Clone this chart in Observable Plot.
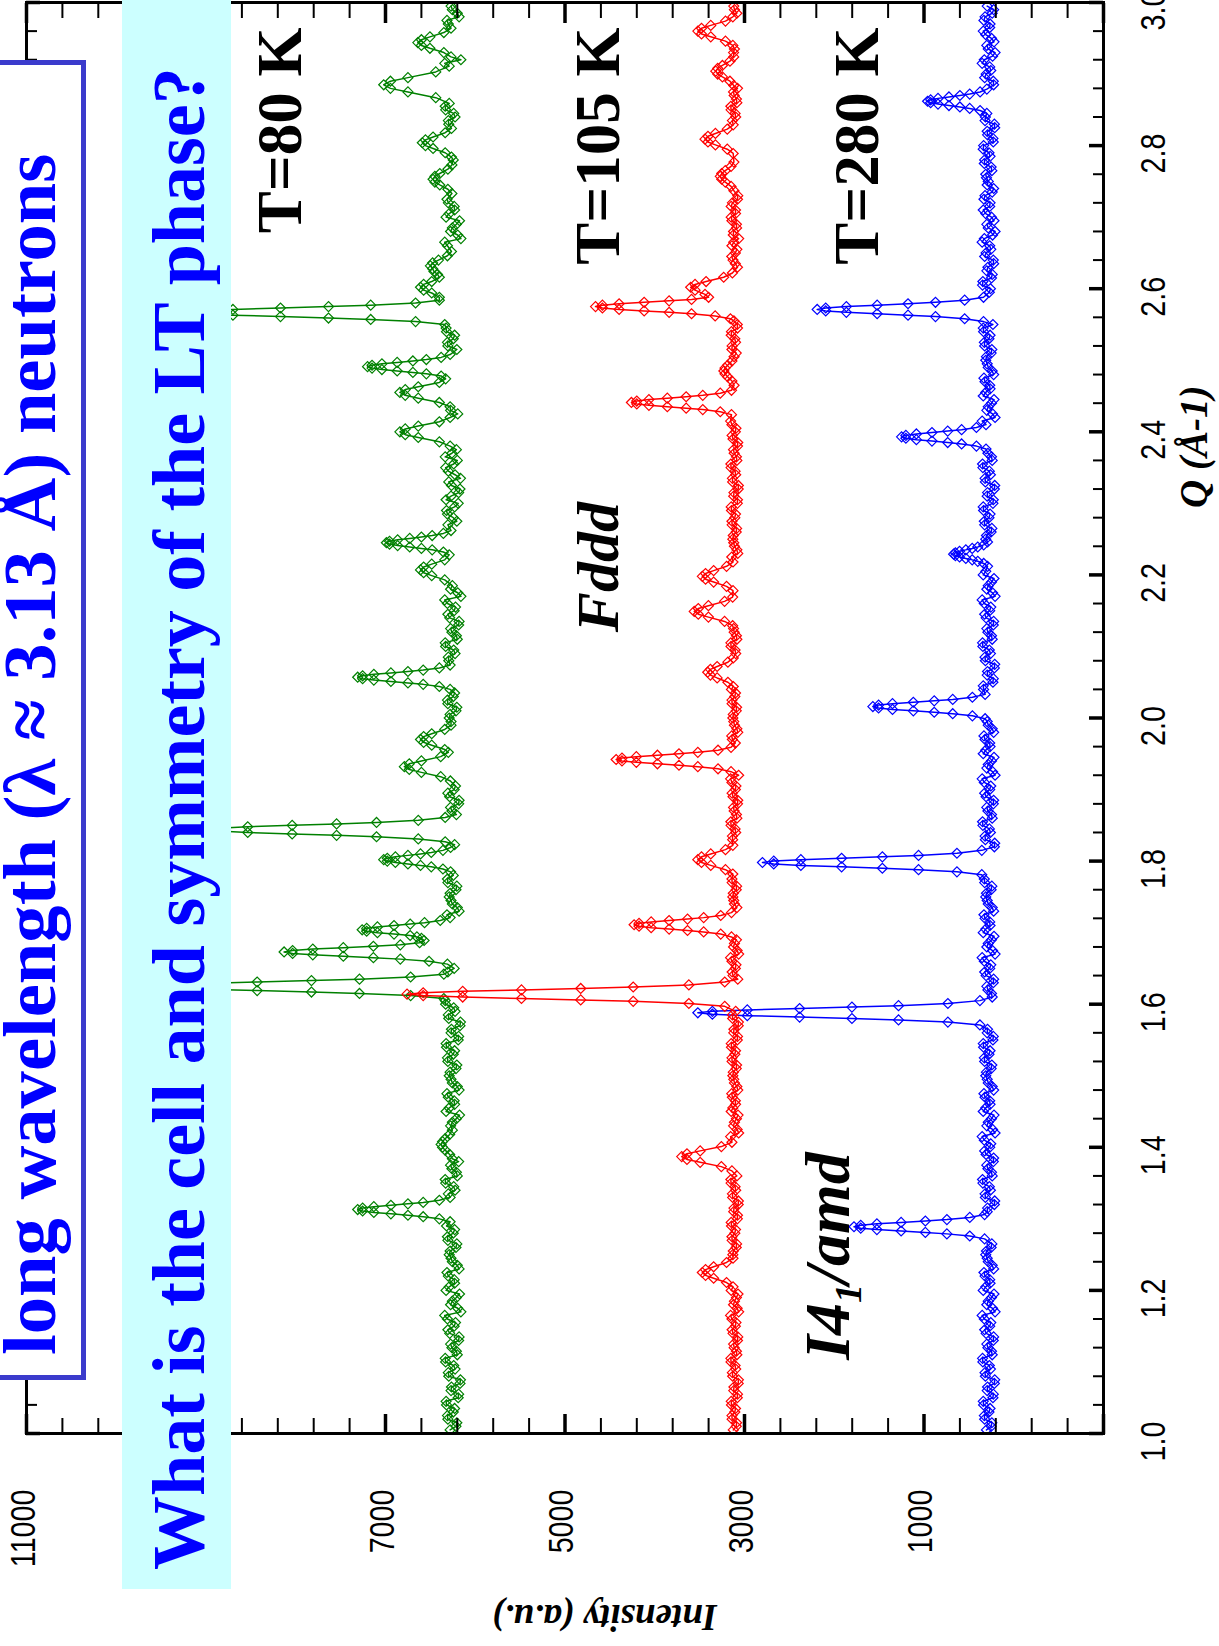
<!DOCTYPE html>
<html><head><meta charset="utf-8">
<script src="https://cdn.jsdelivr.net/npm/d3@7"></script>
<script src="https://cdn.jsdelivr.net/npm/@observablehq/plot@0.6"></script>
<style>
html,body{margin:0;padding:0;background:#fff;overflow:hidden;width:1219px;height:1646px;}
#page{position:relative;width:1219px;height:1646px;overflow:hidden;background:#fff;}
#land{position:absolute;left:0;top:0;width:1646px;height:1219px;transform-origin:0 0;transform:translate(0px,1646px) rotate(-90deg);}
#chart{position:absolute;left:0;top:0;}
.box{position:absolute;box-sizing:border-box;white-space:nowrap;}
.box span{position:absolute;font-family:"Liberation Serif","Times New Roman",Times,serif;font-weight:bold;color:#0000ff;line-height:74px;white-space:nowrap;}
</style>
</head><body>
<div id="page"><div id="land"><div id="chart"></div>
<div class="box" id="boxA" style="left:266px;top:-10px;width:1320px;height:96px;border:5px solid #3b3bcc;background:#fff;"><span id="titleA" style="left:20px;top:-2.5px;font-size:74.6px;"></span></div>
<div class="box" id="boxB" style="left:57px;top:122px;width:1620px;height:109px;background:#ccffff;"><span id="titleB" style="left:19px;top:20px;font-size:74px;"></span></div>
</div></div>
<script>
// ---------- text ----------
const titleText = "long wavelength (\u03bb \u2248 3.13 \u00c5) neutrons";
const questionText = "What is the cell and symmetry of the LT phase?";
const xAxisTitle = "Q (\u00c5-1)";
const yAxisTitle = "Intensity (a.u.)";
const tempLabels = ["T=80 K", "T=105 K", "T=280 K"];
const tempQ = [2.965, 2.965, 2.965];
const tempI = [7947, 4393, 1518];
const phaseLabels = ["Fddd", "I4\u2081/amd"];
const phaseQ = [2.120, 1.103];
const phaseI = [4404, 1841];

// ---------- ticks ----------
const qMajor = [1.0, 1.2, 1.4, 1.6, 1.8, 2.0, 2.2, 2.4, 2.6, 2.8, 3.0];
const iMajor = [11000, 9000, 7000, 5000, 3000, 1000, -1000];
const iLabels = [11000, 7000, 5000, 3000, 1000];

// ---------- data: [Q (1/Å), intensity] ----------
const green80 = [
[1.005,6280],[1.015,6205],[1.025,6310],[1.035,6230],[1.045,6325],[1.055,6185],[1.065,6265],[1.075,6165],[1.085,6300],[1.095,6240],
[1.105,6335],[1.115,6210],[1.125,6275],[1.135,6180],[1.145,6305],[1.155,6220],[1.165,6340],[1.175,6195],[1.185,6255],[1.195,6175],
[1.205,6290],[1.215,6235],[1.225,6315],[1.235,6200],[1.245,6270],[1.255,6280],[1.265,6205],[1.275,6310],[1.285,6230],
[1.296,6280],[1.300,6400],[1.303,6580],[1.305,6750],[1.307,6940],[1.309,7130],[1.311,7255],[1.313,7310],[1.315,7255],[1.317,7130],[1.319,6940],[1.321,6750],[1.323,6580],[1.326,6400],[1.330,6280],
[1.335,6300],[1.345,6240],[1.355,6335],[1.365,6210],[1.375,6275],
[1.384,6255],[1.390,6285],[1.396,6335],[1.400,6365],[1.404,6380],[1.408,6365],[1.412,6335],[1.418,6285],[1.424,6255],
[1.435,6255],[1.445,6175],[1.455,6290],[1.465,6235],[1.475,6315],[1.485,6200],[1.495,6270],[1.505,6280],[1.515,6205],[1.525,6310],[1.535,6230],[1.545,6325],[1.555,6185],[1.565,6265],[1.575,6165],[1.585,6300],[1.595,6240],[1.605,6335],
[1.608,6350],[1.612,6720],[1.615,7290],[1.617,7825],[1.619,8430],[1.621,9030],[1.623,9430],[1.625,9600],[1.627,9430],[1.629,9030],[1.631,8430],[1.633,7825],[1.635,7290],[1.638,6720],[1.642,6350],
[1.645,6305],
[1.656,6310],[1.660,6515],[1.663,6835],[1.665,7135],[1.667,7470],[1.669,7810],[1.671,8035],[1.673,8130],[1.675,8035],[1.677,7810],[1.679,7470],[1.681,7135],[1.683,6835],[1.686,6620],[1.689,6570],[1.692,6600],[1.694,6650],
[1.696,6725],[1.698,6905],[1.700,7090],[1.702,7210],[1.704,7260],[1.706,7210],[1.708,7090],[1.710,6905],[1.712,6725],[1.714,6565],[1.717,6390],[1.721,6280],
[1.725,6315],[1.735,6200],[1.745,6270],[1.755,6280],[1.765,6205],[1.775,6310],
[1.785,6275],[1.789,6360],[1.792,6490],[1.794,6610],[1.796,6750],[1.798,6890],[1.800,6980],[1.802,7020],[1.804,6980],[1.806,6890],[1.808,6750],[1.810,6610],[1.812,6490],[1.815,6360],[1.819,6275],[1.823,6230],
[1.827,6335],[1.831,6635],[1.834,7100],[1.836,7545],[1.838,8040],[1.840,8535],[1.842,8860],[1.844,9000],[1.846,8860],[1.848,8535],[1.850,8040],[1.852,7545],[1.854,7100],[1.857,6635],[1.861,6335],
[1.865,6210],[1.875,6275],[1.885,6180],[1.895,6305],[1.905,6220],
[1.912,6277],[1.918,6385],[1.924,6600],[1.928,6735],[1.932,6790],[1.936,6735],[1.940,6600],[1.946,6385],[1.952,6300],
[1.956,6340],[1.962,6485],[1.966,6575],[1.970,6610],[1.974,6575],[1.978,6485],[1.984,6340],[1.990,6270],
[1.995,6270],[2.005,6280],[2.015,6205],[2.025,6310],[2.035,6230],
[2.040,6280],[2.044,6400],[2.047,6580],[2.049,6750],[2.051,6940],[2.053,7130],[2.055,7255],[2.057,7310],[2.059,7255],[2.061,7130],[2.063,6940],[2.065,6750],[2.067,6580],[2.070,6400],[2.074,6280],
[2.085,6300],[2.095,6240],[2.105,6335],[2.115,6210],[2.125,6275],[2.135,6180],[2.145,6305],[2.155,6220],[2.165,6340],[2.175,6195],[2.185,6255],
[2.193,6340],[2.199,6485],[2.203,6575],[2.207,6610],[2.211,6575],[2.215,6485],[2.221,6340],
[2.228,6290],[2.232,6355],[2.235,6480],[2.237,6600],[2.239,6730],[2.241,6865],[2.243,6955],[2.245,6990],[2.247,6955],[2.249,6865],[2.251,6730],[2.253,6600],[2.255,6480],[2.258,6355],[2.262,6270],
[2.275,6205],[2.285,6310],[2.295,6230],[2.305,6325],[2.315,6185],[2.325,6265],[2.335,6165],[2.345,6300],[2.355,6240],[2.365,6335],[2.375,6210],
[2.380,6280],[2.386,6400],[2.392,6635],[2.396,6780],[2.400,6840],[2.404,6780],[2.408,6635],[2.414,6400],[2.420,6280],
[2.425,6195],
[2.435,6280],[2.441,6400],[2.447,6635],[2.451,6780],[2.455,6840],[2.459,6780],[2.463,6635],[2.469,6400],
[2.474,6330],[2.478,6380],[2.481,6545],[2.483,6695],[2.485,6870],[2.487,7040],[2.489,7150],[2.491,7200],[2.493,7150],[2.495,7040],[2.497,6870],[2.499,6695],[2.501,6545],[2.504,6380],[2.508,6280],
[2.515,6205],[2.525,6310],[2.535,6230],[2.545,6325],
[2.550,6340],[2.554,6665],[2.557,7165],[2.559,7635],[2.561,8170],[2.563,8700],[2.565,9055],[2.567,9200],[2.569,9055],[2.571,8700],[2.573,8170],[2.575,7635],[2.577,7165],[2.580,6665],[2.584,6400],
[2.588,6400],[2.594,6485],[2.598,6575],[2.602,6610],[2.606,6575],[2.610,6485],[2.616,6400],
[2.620,6420],[2.624,6460],[2.628,6475],[2.632,6500],[2.636,6475],[2.640,6410],[2.646,6310],[2.652,6265],
[2.665,6340],[2.675,6195],[2.685,6255],[2.695,6175],[2.705,6290],[2.715,6235],[2.725,6315],
[2.733,6260],[2.739,6305],[2.745,6395],[2.749,6450],[2.753,6470],[2.757,6450],[2.761,6395],[2.767,6305],[2.773,6260],
[2.784,6265],[2.790,6335],[2.796,6470],[2.800,6555],[2.804,6590],[2.808,6555],[2.812,6470],[2.818,6335],[2.824,6265],
[2.835,6300],[2.845,6240],[2.855,6335],
[2.859,6290],[2.867,6440],[2.875,6750],[2.880,6945],[2.885,7020],[2.890,6945],[2.895,6750],[2.903,6440],[2.911,6290],
[2.915,6340],
[2.924,6270],[2.930,6350],[2.936,6505],[2.940,6600],[2.944,6640],[2.948,6600],[2.952,6505],[2.958,6350],[2.964,6270],
[2.975,6315],[2.985,6200],[2.995,6270]
];
const green80b = [
[1.010,6215],[1.020,6305],[1.030,6245],[1.040,6320],[1.050,6190],[1.060,6270],[1.070,6170],[1.080,6295],[1.090,6225],[1.100,6330],
[1.110,6200],[1.120,6260],[1.130,6185],[1.140,6285],[1.150,6235],[1.160,6310],[1.170,6160],[1.180,6275],[1.190,6210],[1.200,6325],
[1.210,6230],[1.220,6300],[1.230,6180],[1.240,6255],[1.250,6290],[1.260,6215],[1.270,6305],[1.280,6245],[1.290,6320],
[1.340,6225],[1.350,6330],[1.360,6200],[1.370,6260],[1.380,6185],
[1.430,6275],[1.440,6210],[1.450,6325],[1.460,6230],[1.470,6300],[1.480,6180],[1.490,6255],[1.500,6290],[1.510,6215],[1.520,6305],
[1.530,6245],[1.540,6320],[1.550,6190],[1.560,6270],[1.570,6170],[1.580,6295],[1.590,6225],[1.600,6330],
[1.650,6235],
[1.730,6180],[1.740,6255],[1.750,6290],[1.760,6215],[1.770,6305],[1.780,6245],
[1.870,6260],[1.880,6185],[1.890,6285],[1.900,6235],
[2.000,6290],[2.010,6215],[2.020,6305],[2.030,6245],
[2.080,6295],[2.090,6225],[2.100,6330],[2.110,6200],[2.120,6260],[2.130,6185],[2.140,6285],[2.150,6235],[2.160,6310],[2.170,6160],[2.180,6275],
[2.270,6305],[2.280,6245],[2.290,6320],[2.300,6190],[2.310,6270],[2.320,6170],[2.330,6295],[2.340,6225],[2.350,6330],[2.360,6200],[2.370,6260],
[2.430,6275],
[2.520,6305],[2.530,6245],[2.540,6320],
[2.660,6310],[2.670,6160],[2.680,6275],[2.690,6210],[2.700,6325],[2.710,6230],[2.720,6300],
[2.780,6245],
[2.830,6295],[2.840,6225],[2.850,6330],
[2.920,6160],
[2.970,6300],[2.980,6180],[2.990,6255]
];

const red105 = [
[1.005,3125],[1.015,3088],[1.025,3140],[1.035,3100],[1.045,3148],[1.055,3078],[1.065,3118],[1.075,3068],[1.085,3135],[1.095,3105],
[1.105,3152],[1.115,3090],[1.125,3122],[1.135,3075],[1.145,3138],[1.155,3095],[1.165,3155],[1.175,3082],[1.185,3112],[1.195,3072],
[1.205,3128],[1.211,3200],[1.217,3344],[1.221,3434],[1.225,3470],[1.229,3434],[1.233,3344],[1.239,3200],[1.245,3128],
[1.255,3125],[1.265,3088],[1.275,3140],[1.285,3100],[1.295,3148],[1.305,3078],[1.315,3118],[1.325,3068],[1.335,3135],[1.345,3105],[1.355,3152],
[1.367,3140],[1.373,3258],[1.379,3494],[1.383,3641],[1.387,3700],[1.391,3641],[1.395,3494],[1.401,3258],[1.407,3140],
[1.415,3155],[1.425,3082],[1.435,3112],[1.445,3072],[1.455,3130],[1.465,3102],[1.475,3142],[1.485,3085],[1.495,3120],[1.505,3125],[1.515,3088],[1.525,3140],[1.535,3100],[1.545,3148],[1.555,3078],[1.565,3118],[1.575,3068],[1.585,3135],
[1.597,3220],[1.601,3620],[1.604,4240],[1.606,4825],[1.608,5485],[1.610,6140],[1.612,6580],[1.614,6760],[1.616,6580],[1.618,6140],[1.620,5485],[1.622,4825],[1.624,4240],[1.627,3620],[1.631,3220],
[1.635,3075],[1.645,3138],[1.655,3095],[1.665,3155],[1.675,3082],[1.685,3112],
[1.694,3145],[1.698,3265],[1.701,3455],[1.703,3635],[1.705,3840],[1.707,4040],[1.709,4175],[1.711,4230],[1.713,4175],[1.715,4040],[1.717,3840],[1.719,3635],[1.721,3455],[1.724,3265],[1.728,3145],
[1.735,3085],[1.745,3120],[1.755,3125],[1.765,3088],[1.775,3140],
[1.782,3130],[1.788,3212],[1.794,3376],[1.798,3479],[1.802,3520],[1.806,3479],[1.810,3376],[1.816,3212],[1.822,3130],
[1.835,3135],[1.845,3105],[1.855,3152],[1.865,3090],[1.875,3122],[1.885,3075],[1.895,3138],[1.905,3095],[1.915,3155],
[1.925,3150],[1.929,3295],[1.932,3520],[1.934,3730],[1.936,3970],[1.938,4205],[1.940,4365],[1.942,4430],[1.944,4365],[1.946,4205],[1.948,3970],[1.950,3730],[1.952,3520],[1.955,3295],[1.959,3150],
[1.965,3102],[1.975,3142],[1.985,3085],[1.995,3120],[2.005,3125],[2.015,3088],[2.025,3140],[2.035,3100],
[2.044,3125],[2.050,3185],[2.056,3305],[2.060,3380],[2.064,3410],[2.068,3380],[2.072,3305],[2.078,3185],[2.084,3125],
[2.095,3105],[2.105,3152],[2.115,3090],[2.125,3122],
[2.129,3132],[2.135,3222],[2.141,3402],[2.145,3515],[2.149,3560],[2.153,3515],[2.157,3402],[2.163,3222],[2.169,3132],
[2.178,3128],[2.184,3200],[2.190,3344],[2.194,3434],[2.198,3470],[2.202,3434],[2.206,3344],[2.212,3200],[2.218,3128],
[2.225,3142],[2.235,3085],[2.245,3120],[2.255,3125],[2.265,3088],[2.275,3140],[2.285,3100],[2.295,3148],[2.305,3078],[2.315,3118],[2.325,3068],[2.335,3135],[2.345,3105],[2.355,3152],[2.365,3090],[2.375,3122],[2.385,3075],[2.395,3138],[2.405,3095],[2.415,3155],
[2.424,3145],[2.428,3270],[2.431,3465],[2.433,3650],[2.435,3860],[2.437,4065],[2.439,4200],[2.441,4260],[2.443,4200],[2.445,4065],[2.447,3860],[2.449,3650],[2.451,3465],[2.454,3270],[2.458,3145],
[2.465,3116],[2.471,3140],[2.477,3188],[2.481,3218],[2.485,3230],[2.489,3218],[2.493,3188],[2.499,3140],[2.505,3116],
[2.515,3140],[2.525,3100],[2.535,3148],[2.545,3078],[2.555,3118],
[2.558,3157],[2.562,3327],[2.565,3590],[2.567,3840],[2.569,4118],[2.571,4397],[2.573,4583],[2.575,4660],[2.577,4583],[2.579,4397],[2.581,4118],[2.583,3840],[2.585,3590],[2.588,3400],
[2.592,3440],[2.598,3551],[2.602,3600],[2.606,3551],[2.610,3428],[2.616,3232],[2.622,3135],
[2.635,3102],[2.645,3142],[2.655,3085],[2.665,3120],[2.675,3125],[2.685,3088],[2.695,3140],[2.705,3100],[2.715,3148],[2.725,3078],
[2.737,3118],[2.743,3150],[2.749,3214],[2.753,3254],[2.757,3270],[2.761,3254],[2.765,3214],[2.771,3150],[2.777,3118],
[2.789,3126],[2.795,3192],[2.801,3324],[2.805,3407],[2.809,3440],[2.813,3407],[2.817,3324],[2.823,3192],[2.829,3126],
[2.835,3135],[2.845,3105],[2.855,3152],[2.865,3090],[2.875,3122],
[2.884,3120],[2.890,3162],[2.896,3246],[2.900,3299],[2.904,3320],[2.908,3299],[2.912,3246],[2.918,3162],[2.924,3120],
[2.935,3112],
[2.940,3130],[2.946,3212],[2.952,3376],[2.956,3479],[2.960,3520],[2.964,3479],[2.968,3376],[2.974,3212],[2.980,3130],
[2.985,3085],[2.995,3120]
];
const red105b = [
[1.010,3092],[1.020,3138],[1.030,3108],[1.040,3145],[1.050,3080],[1.060,3120],[1.070,3070],[1.080,3132],[1.090,3098],[1.100,3150],
[1.110,3085],[1.120,3115],[1.130,3078],[1.140,3128],[1.150,3102],[1.160,3140],[1.170,3065],[1.180,3122],[1.190,3090],[1.200,3148],
[1.250,3130],[1.260,3092],[1.270,3138],[1.280,3108],[1.290,3145],[1.300,3080],[1.310,3120],[1.320,3070],[1.330,3132],[1.340,3098],[1.350,3150],[1.360,3085],
[1.420,3065],[1.430,3122],[1.440,3090],[1.450,3148],[1.460,3100],[1.470,3135],[1.480,3075],[1.490,3112],[1.500,3130],[1.510,3092],
[1.520,3138],[1.530,3108],[1.540,3145],[1.550,3080],[1.560,3120],[1.570,3070],[1.580,3132],[1.590,3098],
[1.640,3128],[1.650,3102],[1.660,3140],[1.670,3065],[1.680,3122],[1.690,3090],
[1.740,3112],[1.750,3130],[1.760,3092],[1.770,3138],
[1.830,3132],[1.840,3098],[1.850,3150],[1.860,3085],[1.870,3115],[1.880,3078],[1.890,3128],[1.900,3102],[1.910,3140],[1.920,3065],
[1.970,3135],[1.980,3075],[1.990,3112],[2.000,3130],[2.010,3092],[2.020,3138],[2.030,3108],[2.040,3145],
[2.090,3098],[2.100,3150],[2.110,3085],[2.120,3115],
[2.230,3075],[2.240,3112],[2.250,3130],[2.260,3092],[2.270,3138],[2.280,3108],[2.290,3145],[2.300,3080],[2.310,3120],[2.320,3070],
[2.330,3132],[2.340,3098],[2.350,3150],[2.360,3085],[2.370,3115],[2.380,3078],[2.390,3128],[2.400,3102],[2.410,3140],
[2.510,3092],[2.520,3138],[2.530,3108],[2.540,3145],[2.550,3080],
[2.630,3078],[2.640,3128],[2.650,3102],[2.660,3140],[2.670,3065],[2.680,3122],[2.690,3090],[2.700,3148],[2.710,3100],[2.720,3135],[2.730,3075],
[2.840,3098],[2.850,3150],[2.860,3085],[2.870,3115],[2.880,3078],
[2.930,3122],
[2.990,3112]
];

const blue280 = [
[1.005,304],[1.015,244],[1.025,328],[1.035,264],[1.045,340],[1.055,228],[1.065,292],[1.075,212],[1.085,320],[1.095,272],
[1.105,348],[1.115,248],[1.125,300],[1.135,224],[1.145,324],[1.155,256],[1.165,352],[1.175,236],[1.185,284],[1.195,220],
[1.205,312],[1.215,268],[1.225,332],[1.235,240],[1.245,296],[1.255,304],[1.265,244],
[1.272,325],[1.276,490],[1.279,745],[1.281,985],[1.283,1255],[1.285,1525],[1.287,1705],[1.289,1780],[1.291,1705],[1.293,1525],[1.295,1255],[1.297,985],[1.299,745],[1.302,490],[1.306,325],
[1.315,292],[1.325,212],[1.335,320],[1.345,272],[1.355,348],[1.365,248],[1.375,300],[1.385,224],[1.395,324],[1.405,256],[1.415,352],[1.425,236],[1.435,284],[1.445,220],[1.455,312],[1.465,268],[1.475,332],[1.485,240],[1.495,296],[1.505,304],[1.515,244],[1.525,328],[1.535,264],[1.545,340],[1.555,228],[1.565,292],
[1.571,377],[1.575,734],[1.578,1284],[1.580,1803],[1.582,2386],[1.584,2969],[1.586,3358],[1.588,3520],[1.590,3358],[1.592,2969],[1.594,2386],[1.596,1803],[1.598,1284],[1.601,734],[1.605,377],
[1.615,248],[1.625,300],[1.635,224],[1.645,324],[1.655,256],[1.665,352],[1.675,236],[1.685,284],[1.695,220],[1.705,312],[1.715,268],[1.725,332],[1.735,240],[1.745,296],[1.755,304],[1.765,244],[1.775,328],
[1.781,356],[1.785,633],[1.788,1061],[1.790,1464],[1.792,1918],[1.794,2372],[1.796,2674],[1.798,2800],[1.800,2674],[1.802,2372],[1.804,1918],[1.806,1464],[1.808,1061],[1.811,633],[1.815,356],
[1.825,212],[1.835,320],[1.845,272],[1.855,348],[1.865,248],[1.875,300],[1.885,224],[1.895,324],[1.905,256],[1.915,352],[1.925,236],[1.935,284],[1.945,220],[1.955,312],[1.965,268],[1.975,332],[1.985,240],[1.995,296],
[1.999,319],[2.003,461],[2.006,680],[2.008,886],[2.010,1119],[2.012,1351],[2.014,1506],[2.016,1570],[2.018,1506],[2.020,1351],[2.022,1119],[2.024,886],[2.026,680],[2.029,461],[2.033,319],
[2.045,340],[2.055,228],[2.065,292],[2.075,212],[2.085,320],[2.095,272],[2.105,348],[2.115,248],[2.125,300],[2.135,224],[2.145,324],[2.155,256],[2.165,352],[2.175,236],[2.185,284],[2.195,220],[2.205,312],
[2.212,292],[2.216,335],[2.219,401],[2.221,463],[2.223,534],[2.225,604],[2.227,650],[2.229,670],[2.231,650],[2.233,604],[2.235,534],[2.237,463],[2.239,401],[2.242,335],[2.246,292],
[2.255,304],[2.265,244],[2.275,328],[2.285,264],[2.295,340],[2.305,228],[2.315,292],[2.325,212],[2.335,320],[2.345,272],[2.355,348],[2.365,248],
[2.376,309],[2.380,416],[2.383,581],[2.385,736],[2.387,911],[2.389,1085],[2.391,1202],[2.393,1250],[2.395,1202],[2.397,1085],[2.399,911],[2.401,736],[2.403,581],[2.406,416],[2.410,309],
[2.415,352],[2.425,236],[2.435,284],[2.445,220],[2.455,312],[2.465,268],[2.475,332],[2.485,240],[2.495,296],[2.505,304],[2.515,244],[2.525,328],[2.535,264],[2.545,340],
[2.554,337],[2.558,547],[2.561,872],[2.563,1178],[2.565,1522],[2.567,1865],[2.569,2095],[2.571,2190],[2.573,2095],[2.575,1865],[2.577,1522],[2.579,1178],[2.581,872],[2.584,547],[2.588,337],
[2.595,272],[2.605,348],[2.615,248],[2.625,300],[2.635,224],[2.645,324],[2.655,256],[2.665,352],[2.675,236],[2.685,284],[2.695,220],[2.705,312],[2.715,268],[2.725,332],[2.735,240],[2.745,296],[2.755,304],[2.765,244],[2.775,328],[2.785,264],[2.795,340],[2.805,228],[2.815,292],[2.825,212],[2.835,320],
[2.845,300],[2.849,375],[2.852,491],[2.854,600],[2.856,722],[2.858,844],[2.860,926],[2.862,960],[2.864,926],[2.866,844],[2.868,722],[2.870,600],[2.872,491],[2.875,375],[2.879,300],
[2.885,224],[2.895,324],[2.905,256],[2.915,352],[2.925,236],[2.935,284],[2.945,220],[2.955,312],[2.965,268],[2.975,332],[2.985,240],[2.995,296]
];
const blue280b = [
[1.010,252],[1.020,324],[1.030,276],[1.040,336],[1.050,232],[1.060,296],[1.070,216],[1.080,316],[1.090,260],[1.100,344],
[1.110,240],[1.120,288],[1.130,228],[1.140,308],[1.150,268],[1.160,328],[1.170,208],[1.180,300],[1.190,248],[1.200,340],
[1.210,264],[1.220,320],[1.230,224],[1.240,284],[1.250,312],[1.260,252],
[1.310,296],[1.320,216],[1.330,316],[1.340,260],[1.350,344],[1.360,240],[1.370,288],[1.380,228],[1.390,308],[1.400,268],
[1.410,328],[1.420,208],[1.430,300],[1.440,248],[1.450,340],[1.460,264],[1.470,320],[1.480,224],[1.490,284],[1.500,312],
[1.510,252],[1.520,324],[1.530,276],[1.540,336],[1.550,232],[1.560,296],
[1.610,240],[1.620,288],[1.630,228],[1.640,308],[1.650,268],[1.660,328],[1.670,208],[1.680,300],[1.690,248],[1.700,340],
[1.710,264],[1.720,320],[1.730,224],[1.740,284],[1.750,312],[1.760,252],[1.770,324],
[1.820,216],[1.830,316],[1.840,260],[1.850,344],[1.860,240],[1.870,288],[1.880,228],[1.890,308],[1.900,268],[1.910,328],
[1.920,208],[1.930,300],[1.940,248],[1.950,340],[1.960,264],[1.970,320],[1.980,224],[1.990,284],
[2.040,336],[2.050,232],[2.060,296],[2.070,216],[2.080,316],[2.090,260],[2.100,344],[2.110,240],[2.120,288],[2.130,228],
[2.140,308],[2.150,268],[2.160,328],[2.170,208],[2.180,300],[2.190,248],[2.200,340],
[2.250,312],[2.260,252],[2.270,324],[2.280,276],[2.290,336],[2.300,232],[2.310,296],[2.320,216],[2.330,316],[2.340,260],[2.350,344],[2.360,240],[2.370,288],
[2.420,208],[2.430,300],[2.440,248],[2.450,340],[2.460,264],[2.470,320],[2.480,224],[2.490,284],[2.500,312],[2.510,252],[2.520,324],[2.530,276],[2.540,336],[2.550,232],
[2.600,260],[2.610,344],[2.620,240],[2.630,288],[2.640,228],[2.650,308],[2.660,268],[2.670,328],[2.680,208],[2.690,300],
[2.700,248],[2.710,340],[2.720,264],[2.730,320],[2.740,224],[2.750,284],[2.760,312],[2.770,252],[2.780,324],[2.790,276],
[2.800,336],[2.810,232],[2.820,296],[2.830,216],[2.840,316],
[2.890,228],[2.900,308],[2.910,268],[2.920,328],[2.930,208],[2.940,300],[2.950,248],[2.960,340],[2.970,264],[2.980,320],[2.990,224]
];

// ---------- chart (drawn landscape, page rotates it) ----------
const W = 1646, H = 1219, ML = 212, MR = 3, MT = 26, MB = 116;
const FW = W - ML - MR, FH = H - MT - MB;
const serif = "'Liberation Serif','Times New Roman',Times,serif";
const sans = "'Liberation Sans',Arial,Helvetica,sans-serif";
const qMinor = d3.range(1, 3.0001, 0.04).filter(v => Math.abs(v / 0.2 - Math.round(v / 0.2)) > 1e-6);
const iMinor = d3.range(-1000, 11001, 400).filter(v => (v + 1000) % 2000 !== 0);
const sym = d3.symbolDiamond2 || "diamond";

const series = [
  {data: blue280.concat(blue280b), color: "#0000ff"},
  {data: green80.concat(green80b), color: "#008000"},
  {data: red105.concat(red105b), color: "#ff0000"}
];

const marks = [];
for (const s of series) {
  const d = d3.sort(s.data, p => p[0]);
  marks.push(Plot.line(d, {x: p => p[0], y: p => p[1], stroke: s.color, strokeWidth: 1.5, clip: true}));
  marks.push(Plot.dot(d, {x: p => p[0], y: p => p[1], stroke: s.color, fill: "none", r: 4.5, symbol: sym, strokeWidth: 1.2, clip: true}));
}
marks.push(
  Plot.tickX(qMajor, {x: d => d, insetTop: FH - 14, strokeWidth: 3.5}),
  Plot.tickX(qMajor, {x: d => d, insetBottom: FH - 14, strokeWidth: 3.5}),
  Plot.tickX(qMinor, {x: d => d, insetTop: FH - 10, strokeWidth: 2}),
  Plot.tickX(qMinor, {x: d => d, insetBottom: FH - 11, strokeWidth: 2}),
  Plot.tickY(iMajor, {y: d => d, insetRight: FW - 20, strokeWidth: 3.5}),
  Plot.tickY(iMajor, {y: d => d, insetLeft: FW - 20, strokeWidth: 3.5}),
  Plot.tickY(iMinor, {y: d => d, insetRight: FW - 16, strokeWidth: 2}),
  Plot.tickY(iMinor, {y: d => d, insetLeft: FW - 15, strokeWidth: 2}),
  Plot.frame({stroke: "black", strokeWidth: 3}),
  Plot.axisX(qMajor, {anchor: "bottom", tickSize: 0, tickPadding: 37, tickFormat: d3.format(".1f"), fontSize: 35, fontFamily: sans, dx: -8, label: null}),
  Plot.axisY(iLabels, {anchor: "left", tickSize: 0, tickPadding: 56, tickFormat: d3.format("d"), fontSize: 35, fontFamily: sans, dy: -3, label: null}),
  Plot.text(tempLabels, {x: (d, i) => tempQ[i], y: (d, i) => tempI[i], text: d => d, textAnchor: "end", lineAnchor: "bottom", fontFamily: serif, fontWeight: "bold", fontSize: 63, fill: "black"}),
  Plot.text([phaseLabels[0]], {x: () => phaseQ[0], y: () => phaseI[0], text: d => d, textAnchor: "start", lineAnchor: "bottom", fontFamily: serif, fontWeight: "bold", fontStyle: "italic", fontSize: 60, fill: "black"}),
  Plot.text([phaseLabels[1]], {x: () => phaseQ[1], y: () => phaseI[1], text: d => d, textAnchor: "start", lineAnchor: "bottom", fontFamily: serif, fontWeight: "bold", fontStyle: "italic", fontSize: 64, fill: "black"}),
  Plot.text([xAxisTitle], {x: 2.379, frameAnchor: "bottom", dy: 103, textAnchor: "middle", lineAnchor: "bottom", fontFamily: serif, fontStyle: "italic", fontWeight: "bold", fontSize: 39, fill: "black"}),
  Plot.text([yAxisTitle], {frameAnchor: "left", dx: -171, dy: 39.5, rotate: -90, textAnchor: "middle", lineAnchor: "bottom", fontFamily: serif, fontStyle: "italic", fontWeight: "bold", fontSize: 37, fill: "black"})
);

const svg = Plot.plot({
  width: W, height: H,
  marginLeft: ML, marginRight: MR, marginTop: MT, marginBottom: MB,
  x: {domain: [1, 3]},
  y: {domain: [-1000, 11000]},
  style: {background: "white", fontFamily: sans, overflow: "visible"},
  marks
});
document.getElementById("chart").appendChild(svg);

// narrow (Arial-Narrow-like) numeric tick labels, and subscript in I4_1/amd
svg.querySelectorAll("text").forEach(t => {
  const s = t.textContent.trim();
  if (/^\d+(\.\d+)?$/.test(s)) {
    const tr = t.getAttribute("transform");
    if (tr) t.setAttribute("transform", tr + " scale(0.82,1)");
  } else if (s === phaseLabels[1]) {
    t.textContent = "";
    const ns = "http://www.w3.org/2000/svg";
    const a = document.createElementNS(ns, "tspan"); a.textContent = "I4";
    const b = document.createElementNS(ns, "tspan"); b.textContent = "1"; b.setAttribute("font-size", "38"); b.setAttribute("dy", "12");
    const c = document.createElementNS(ns, "tspan"); c.textContent = "/amd"; c.setAttribute("dy", "-12");
    t.append(a, b, c);
  }
});
document.getElementById("titleA").textContent = titleText;
document.getElementById("titleB").textContent = questionText;
</script>
</body></html>
